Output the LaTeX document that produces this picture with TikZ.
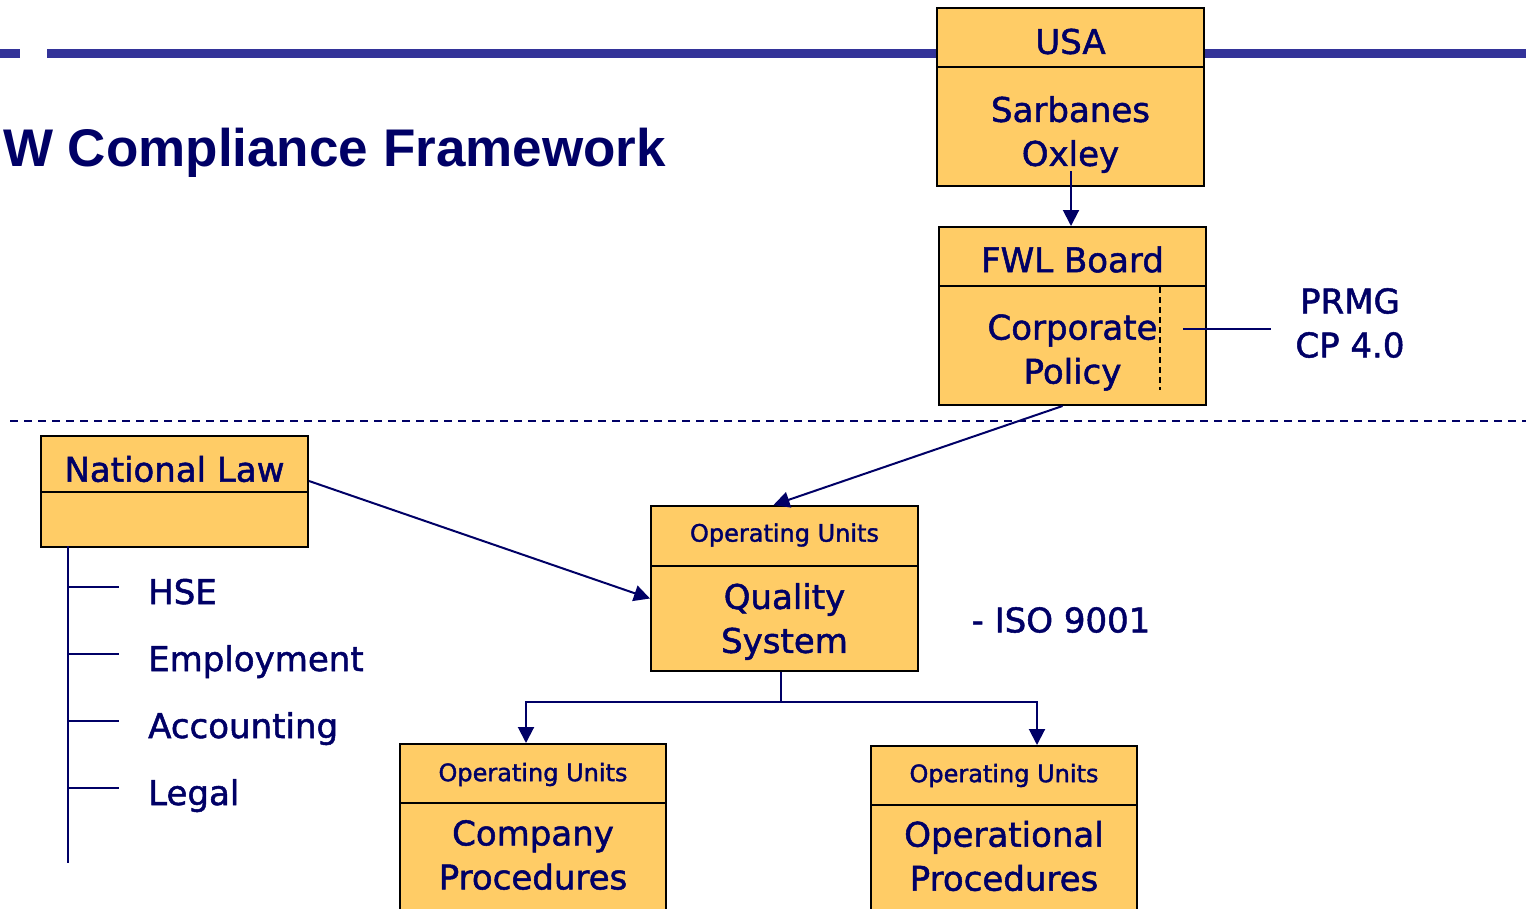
\documentclass[tikz,border=0pt]{standalone}
\usepackage{fontspec}
\setmainfont{DejaVu Sans}[FakeBold=1.5]
\newfontfamily\titlefont{Liberation Sans}
\usetikzlibrary{arrows.meta,calc}
\definecolor{boxfill}{HTML}{FFCC66}
\definecolor{navy}{HTML}{000066}
\definecolor{barblue}{HTML}{333399}
\tikzset{
  part/.style={draw=black, line width=2pt, fill=boxfill, inner sep=0pt,
    minimum width=267pt, anchor=north},
  boxtext/.style={text=navy, inner sep=0pt, align=center, font=\fontsize{34}{44}\selectfont},
  small/.style={font=\fontsize{24}{30}\selectfont},
  conn/.style={draw=navy, line width=2pt},
  arr/.style={conn, -{Triangle[length=16pt,width=16pt]}},
  label/.style={text=navy, inner sep=0pt, font=\fontsize{34}{44}\selectfont, align=center},
}
\begin{document}
\begin{tikzpicture}[x=1pt,y=-1pt]
\useasboundingbox (0,0) rectangle (1526,908);
% top bar
\fill[barblue] (0,49) rectangle (20,58);
\fill[barblue] (47,49) rectangle (1526,58);
% title
\node[anchor=base west, inner sep=0pt, text=navy, font=\titlefont\bfseries\fontsize{53}{60}\selectfont] (title) at (3,166) {W Compliance Framework};
% dashed separator
\draw[navy, line width=1.5pt, dash pattern=on 8pt off 6pt] (10,421) -- (1526,421);

% USA box
\node[part, minimum height=59pt] (usaT) at (1070.5,7) {};
\node[part, minimum height=119pt] (usaB) at (1070.5,66) {};
\node[boxtext] (usaTt) at ($(usaT.center)+(0,4)$) {USA};
\node[boxtext] (usaBt) at ($(usaB.center)+(0,8)$) {Sarbanes\\Oxley};
% FWL box
\node[part, minimum height=59pt] (fwlT) at (1072.5,226) {};
\node[part, minimum height=119pt] (fwlB) at (1072.5,285) {};
\node[boxtext] (fwlTt) at ($(fwlT.center)+(0,3)$) {FWL Board};
\node[boxtext] (fwlBt) at ($(fwlB.center)+(0,7)$) {Corporate\\Policy};
\draw[black, line width=1.5pt, dash pattern=on 6pt off 4pt] (1160,287) -- (1160,390);
% PRMG
\node[label] (prmg) at (1350,323) {PRMG\\CP 4.0};
\coordinate (prmgEnd) at (1183,329);
\draw[conn] (prmgEnd) -- (1271,329);

% National law box
\node[part, minimum height=56pt] (natT) at (174.5,435) {};
\node[part, minimum height=55pt] (natB) at (174.5,491) {};
\node[boxtext] (natTt) at ($(natT.center)+(0,5)$) {National Law};
% list
\coordinate (listEnd) at (68,863);
\draw[conn] (68,546) -- (listEnd);
\foreach \y/\t/\n in {604/HSE/hse, 671/Employment/emp, 738/Accounting/acc, 805/Legal/leg}{
  \node[label, anchor=base west] (\n) at (148,\y) {\t};
  \draw[conn] (68,\y-17) -- (119,\y-17);
}

% Quality system
\node[part, minimum height=60pt] (qsT) at (784.5,505) {};
\node[part, minimum height=105pt] (qsB) at (784.5,565) {};
\node[boxtext, small] (qsTt) at ($(qsT.center)+(0,-1)$) {Operating Units};
\node[boxtext] (qsBt) at ($(qsB.center)+(0,3)$) {Quality\\System};
\node[label] (iso) at (1061,620) {- ISO 9001};

% Company procedures
\node[part, minimum width=266pt, minimum height=59pt] (cpT) at (533,743) {};
\node[part, minimum width=266pt, minimum height=110pt] (cpB) at (533,802) {};
\node[boxtext, small] (cpTt) at ($(cpT.center)+(0,1)$) {Operating Units};
\node[boxtext] (cpBt) at ($(cpB.center)+(0,-3)$) {Company\\Procedures};
% Operational procedures
\node[part, minimum width=266pt, minimum height=59pt] (opT) at (1004,745) {};
\node[part, minimum width=266pt, minimum height=108pt] (opB) at (1004,804) {};
\node[boxtext, small] (opTt) at ($(opT.center)+(0,0)$) {Operating Units};
\node[boxtext] (opBt) at ($(opB.center)+(0,-3)$) {Operational\\Procedures};

% connectors
\draw[arr] ($(usaB.south)+(0.5,-16)$) -- ($(fwlT.north)+(-1.5,0)$);
\draw[arr] ($(fwlB.south)+(-10,0)$) -- ($(qsT.north)+(-11,0)$);
\draw[arr] ($(natT.east)+(0,17)$) -- ($(qsB.west)+(0,-20)$);
\coordinate (split) at (781,702);
\draw[conn] ($(qsB.south)+(-3.5,0)$) -- (split);
\draw[arr] (split) -| ($(cpT.north)+(-7,0)$);
\draw[arr] (split) -| ($(opT.north)+(33,0)$);
\end{tikzpicture}
\end{document}
